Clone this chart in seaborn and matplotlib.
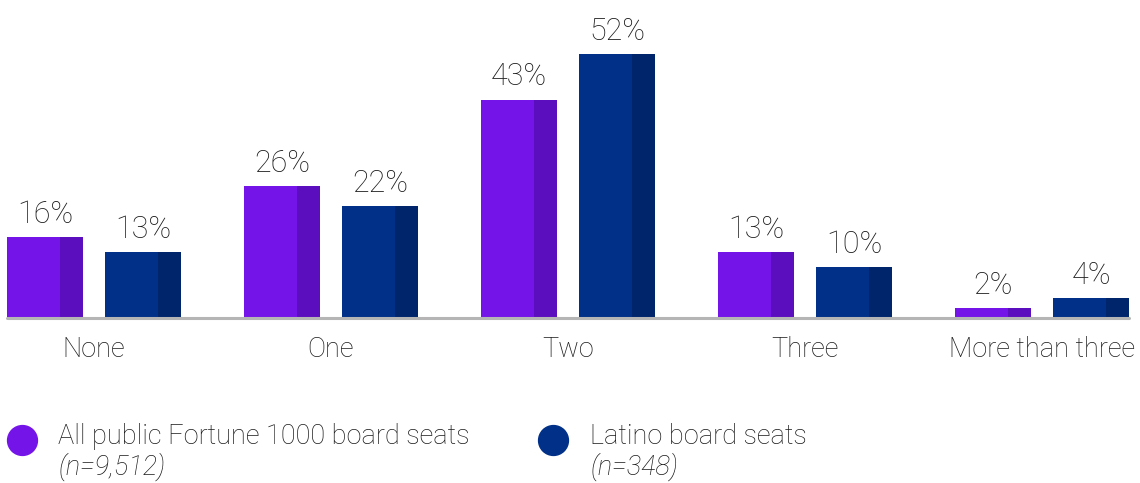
import matplotlib
matplotlib.use("Agg")
import matplotlib.pyplot as plt
from matplotlib.lines import Line2D
from matplotlib.patches import Rectangle
import seaborn as sns
import pandas as pd

# Share of board seats by number of additional public boards held
categories = ["None", "One", "Two", "Three", "More than three"]
all_seats = [16, 26, 43, 13, 2]
latino_seats = [13, 22, 52, 10, 4]
series_names = ["All public Fortune 1000 board seats", "Latino board seats"]
series_notes = ["(n=9,512)", "(n=348)"]

main_colors = ["#7414E8", "#003087"]
dark_colors = ["#5B0EBE", "#00256B"]
text_color = "#1a1a1a"

sns.set_theme(style="white")
plt.rcParams["font.family"] = ["Roboto", "DejaVu Sans"]

df = pd.DataFrame({
    "category": categories * 2,
    "share": all_seats + latino_seats,
    "series": [series_names[0]] * len(categories) + [series_names[1]] * len(categories),
})

fig = plt.figure(figsize=(11.4, 4.83), dpi=100)
ax = fig.add_axes([7 / 1140, (483 - 318) / 483, 1122 / 1140, 313 / 483])

sns.barplot(data=df, x="category", y="share", hue="series", order=categories,
            hue_order=series_names, palette=main_colors, width=0.828, gap=0.227,
            saturation=1, legend=False, ax=ax, linewidth=0)

# darker right-hand strip on each bar for a shaded look
for i, patch in enumerate(list(ax.patches)[:2 * len(categories)]):
    s = i // len(categories)
    x0, w, h = patch.get_x(), patch.get_width(), patch.get_height()
    ax.add_patch(Rectangle((x0 + 0.7 * w, 0), 0.3 * w, h,
                           facecolor=dark_colors[s], edgecolor="none", zorder=3))
    ax.text(x0 + w / 2, h + 1.6, f"{int(h)}%", ha="center", va="bottom",
            fontsize=22, color=text_color, fontweight="light")

ax.set_xlim(-0.367, 4.367)
ax.set_ylim(0, 61.6)
ax.axhline(0, color="#b5b5b5", lw=2.2, zorder=4, clip_on=False)
ax.set_xlabel("")
ax.set_ylabel("")
ax.set_yticks([])
ax.tick_params(axis="x", length=0, pad=13, labelsize=19.5, labelcolor=text_color)
for lbl in ax.get_xticklabels():
    lbl.set_fontweight("light")
for sp in ax.spines.values():
    sp.set_visible(False)

# legend built from circle markers and two-line captions
leg_x = [22, 553]
txt_x = [58, 590]
for s in range(2):
    fig.add_artist(Line2D([leg_x[s] / 1140], [1 - 440 / 483], marker="o",
                          markersize=21.5, color=main_colors[s], linestyle="none",
                          transform=fig.transFigure))
    fig.text(txt_x[s] / 1140, 1 - 437 / 483, series_names[s], ha="left", va="center",
             fontsize=19.5, color=text_color, fontweight="light")
    fig.text(txt_x[s] / 1140, 1 - 467 / 483, series_notes[s], ha="left", va="center",
             fontsize=19.5, color=text_color, fontstyle="italic", fontweight="light")

fig.savefig("out.png", dpi=100)
